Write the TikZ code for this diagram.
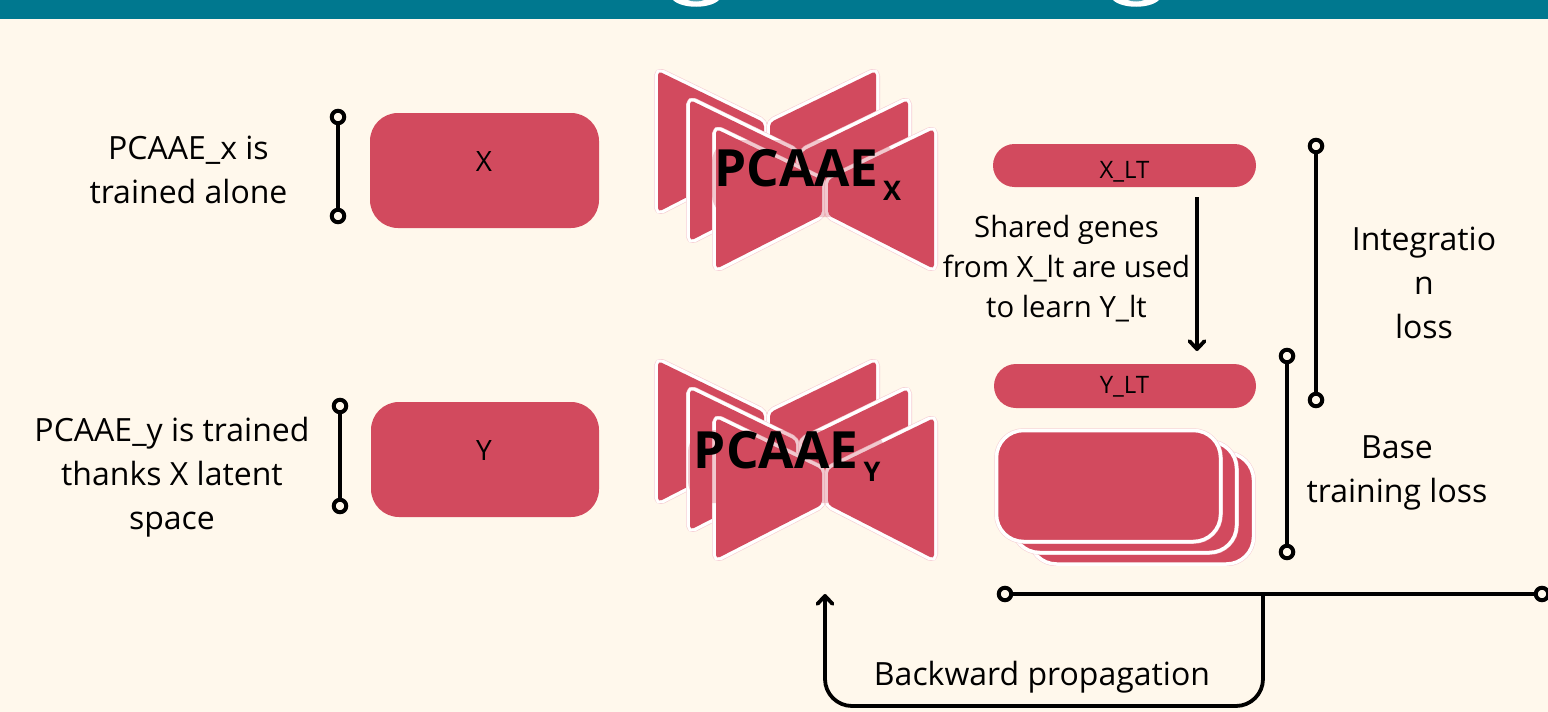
\documentclass[tikz,border=0pt]{standalone}
\usepackage{fontspec}
\setmainfont{Open Sans}
\usetikzlibrary{arrows.meta}
\definecolor{bgc}{HTML}{FFF8EC}
\definecolor{teal1}{HTML}{00788F}
\definecolor{rosec}{HTML}{D24A5E}
\definecolor{edgep}{HTML}{F6CDD3}
\newcommand{\fz}[2]{\fontsize{#1}{#2}\selectfont}
\newcommand{\bowpanel}[3]{% left x, top y, height
  \foreach \sx/\ex in {#1/#1+106, #1+218/#1+112}{
    \draw[edgep,line width=8,line join=round,rounded corners=5] (\sx,#2) -- (\ex,{#2+0.365*#3}) -- (\ex,{#2+0.615*#3}) -- (\sx,{#2+#3}) -- cycle;
    \draw[white,line width=6.8,fill=rosec,rounded corners=5] (\sx,#2) -- (\ex,{#2+0.365*#3}) -- (\ex,{#2+0.615*#3}) -- (\sx,{#2+#3}) -- cycle;
    \fill[rosec,rounded corners=4] (\sx,#2) -- (\ex,{#2+0.365*#3}) -- (\ex,{#2+0.615*#3}) -- (\sx,{#2+#3}) -- cycle;
  }
}
\tikzset{
  x=1pt,y=-1pt,
  inner sep=0pt,outer sep=0pt,
  rbox/.style={fill=rosec,rounded corners=#1,minimum height=0pt},
  stackbox/.style={fill=rosec,draw=white,line width=3.5pt,rounded corners=27},
  stackedge/.style={draw=edgep,line width=4.5pt,rounded corners=27},
  endcirc/.style={circle,draw=black,fill=bgc,line width=4pt,minimum size=12.5pt},
  barline/.style={black,line width=4pt},
  flow/.style={black,line width=3.8pt,-{Straight Barb[length=8pt,width=15pt,round]}},
  lab/.style={align=center,text=black,anchor=center},
  biglab/.style={lab,font=\bfseries\fz{51.3}{60}},
  sublab/.style={lab,font=\bfseries\fz{27}{32}},
  halo/.style={fill=rosec,opacity=.3,rounded corners=22},
}
\begin{document}
\begin{tikzpicture}
\clip (0,0) rectangle (1548,712);
\fill[bgc] (0,0) rectangle (1548,712);
\fill[teal1] (0,0) rectangle (1548,19);
% cropped title descenders
\fill[white] (673,0) .. controls (682,9) and (710,9) .. (719,0) -- cycle;
\fill[white] (1113,0) .. controls (1122,9) and (1150,9) .. (1159,0) -- cycle;
\fill[teal1!70!white] (688,0) .. controls (692,2) and (700,2) .. (704,0) -- cycle;
\fill[teal1!70!white] (1128,0) .. controls (1132,2) and (1140,2) .. (1144,0) -- cycle;

% input boxes
\fill[rbox=28] (370,113) rectangle (599,228);
\fill[rbox=28] (371,402) rectangle (599,517);
\node[lab,font=\fz{28}{34}] (xl) at (484,162) {X};
\node[lab,font=\fz{28}{34}] (yl) at (484,451) {Y};

% latent bars
\fill[rbox=21.5] (993,144) rectangle (1256,187);
\fill[rbox=22] (994,364) rectangle (1256,408);
\node[lab,font=\fz{24}{30}] (xlt) at (1124.5,172) {X\_LT};
\node[lab,font=\fz{24}{30}] (ylt) at (1124.5,387) {Y\_LT};

% PCAAE X
\bowpanel{658}{71}{141}
\bowpanel{690}{100}{141}
\bowpanel{716}{129}{140}
\fill[halo] (712,140) rectangle (895,217);
\node[biglab] (px) at (796.5,168) {PCAAE};
\node[sublab] (pxs) at (892,191) {X};

% PCAAE Y
\bowpanel{658}{361}{141}
\bowpanel{690}{389}{141}
\bowpanel{716}{418}{141}
\fill[halo] (688,430) rectangle (885,503);
\node[biglab] (py) at (776,450) {PCAAE};
\node[sublab] (pys) at (872,472) {Y};

% stacked output
\foreach \x/\y in {1029.5/453,1012.5/441.5,996.5/430.5}{
  \draw[stackedge] (\x,\y) rectangle (\x+224,\y+111);
  \draw[stackbox] (\x,\y) rectangle (\x+224,\y+111);
}
\fill[bgc] (1020,566) rectangle (1270,580);

% range bars
\node[endcirc] (a1) at (338,117) {};
\node[endcirc] (a2) at (338,216) {};
\draw[barline] (a1) -- (a2);
\node[endcirc] (b1) at (340,406) {};
\node[endcirc] (b2) at (340,506) {};
\draw[barline] (b1) -- (b2);
\node[endcirc] (c1) at (1316,146) {};
\node[endcirc] (c2) at (1316,400) {};
\draw[barline] (c1) -- (c2);
\node[endcirc] (d1) at (1287,356) {};
\node[endcirc] (d2) at (1287,552) {};
\draw[barline] (d1) -- (d2);
\node[endcirc] (e1) at (1005,594) {};
\node[endcirc] (e2) at (1542,594) {};
\draw[barline] (e1) -- (e2);

% arrows
\coordinate (s1) at (1197,197);
\coordinate (s2) at (1197,351);
\draw[flow] (s1) -- (s2);
\coordinate (bstart) at (1263,594);
\coordinate (bend) at (825,594);
\draw[flow,rounded corners=27] (bstart) -- (1263,706) -- (825,706) -- (bend);

% labels
\node[lab,font=\fz{32}{44}] (t1) at (188.5,170) {PCAAE\_x is\hspace{8pt}\\trained alone};
\node[lab,font=\fz{32}{44}] (t2) at (172,477.5) {PCAAE\_y is trained\\thanks X latent\\space};
\node[lab,font=\fz{29.3}{40}] (t3) at (1066.5,269) {Shared genes\\from X\_lt are used\\to learn Y\_lt};
\node[lab,font=\fz{32}{44}] (t4) at (1424,283) {Integratio\\n\\loss};
\node[lab,font=\fz{32}{44}] (t5) at (1397,473) {Base\\training loss};
\node[lab,font=\fz{32}{40}] (t6) at (1042,677) {Backward propagation};
\end{tikzpicture}
\end{document}
